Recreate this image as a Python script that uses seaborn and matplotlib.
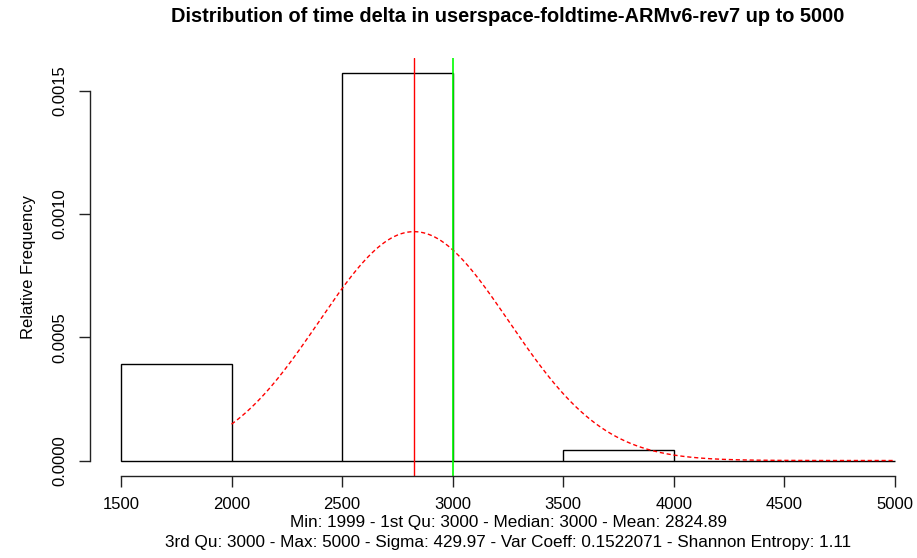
import numpy as np
import matplotlib
matplotlib.use("Agg")
import matplotlib.pyplot as plt
import seaborn as sns

# histogram (relative frequency per bin)
bin_edges = [1500, 2000, 2500, 3000, 3500, 4000, 4500, 5000]
bin_heights = [0.00039, 0.0, 0.001569, 0.0, 0.0000407, 0.0, 0.0]

# summary stats shown under the chart
mean_val = 2824.89
median_val = 3000
sigma_val = 429.97

title = "Distribution of time delta in userspace-foldtime-ARMv6-rev7 up to 5000"
stats_line1 = "Min: 1999 - 1st Qu: 3000 - Median: 3000 - Mean: 2824.89"
stats_line2 = ("3rd Qu: 3000 - Max: 5000 - Sigma: 429.97 - Var Coeff: 0.1522071"
               " - Shannon Entropy: 1.11")

sns.set_style("white")
plt.rcParams['font.family'] = ['Liberation Sans', 'DejaVu Sans']
plt.rcParams['text.color'] = 'black'
plt.rcParams['axes.labelcolor'] = 'black'

W, H = 917, 558
fig = plt.figure(figsize=(W / 100, H / 100), dpi=100)
# plot region like R's, right side runs a bit past the image edge
left, right, top, bottom = 90, 926, 58, 476
ax = fig.add_axes([left / W, 1 - bottom / H, (right - left) / W, (bottom - top) / H])

centers = [(a + b) / 2 for a, b in zip(bin_edges[:-1], bin_edges[1:])]
sns.histplot(x=centers, weights=bin_heights, bins=bin_edges, stat="count",
             fill=False, color="black", linewidth=1.0, ax=ax)

# fitted normal curve
xs = np.linspace(2000, 5000, 400)
ys = np.exp(-0.5 * ((xs - mean_val) / sigma_val) ** 2) / (sigma_val * np.sqrt(2 * np.pi))
sns.lineplot(x=xs, y=ys, color="red", linestyle=(0, (3, 2)), linewidth=1.0, ax=ax)

ax.axvline(mean_val, color="#FF0000", linewidth=1.0)
ax.axvline(median_val, color="#00FF00", linewidth=1.2)

ax.set_xlim(1360, 5140)
ax.set_ylim(-0.0000628, 0.0016318)

ax.set_xticks([1500, 2000, 2500, 3000, 3500, 4000, 4500, 5000])
ax.set_yticks([0.0, 0.0005, 0.0010, 0.0015])
ax.set_yticklabels(["0.0000", "0.0005", "0.0010", "0.0015"], rotation=90, va="center")

for s in ["top", "right"]:
    ax.spines[s].set_visible(False)
ax.spines["bottom"].set_bounds(1500, 5000)
ax.spines["left"].set_bounds(0, 0.0015)
for s in ["bottom", "left"]:
    ax.spines[s].set_color("#222222")
    ax.spines[s].set_linewidth(1.0)
ax.tick_params(axis="both", direction="out", length=8, width=1.0,
               colors="#222222", labelcolor="black", labelsize=12, pad=7,
               bottom=True, left=True)
ax.tick_params(axis="y", pad=8)

ax.set_xlabel("")
ax.set_ylabel("Relative Frequency", fontsize=12, labelpad=12, color="black")

cx = (left + right) / 2 / W
fig.text(cx, 1 - 17 / H, title, ha="center", va="center",
         fontsize=14.4, fontweight="bold", color="black")
fig.text(cx, 1 - 522 / H, stats_line1, ha="center", va="center", fontsize=12.3,
         color="black")
fig.text(cx, 1 - 542 / H, stats_line2, ha="center", va="center", fontsize=12.3,
         color="black")

fig.savefig("out.png", dpi=100)
